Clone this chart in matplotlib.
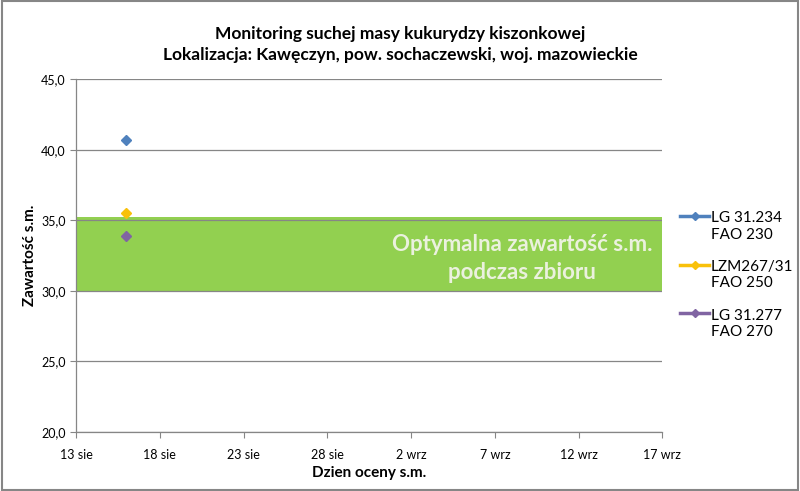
import matplotlib
matplotlib.use("Agg")
import matplotlib.pyplot as plt
import matplotlib.dates as mdates
from matplotlib.patches import Rectangle
from matplotlib.legend_handler import HandlerLine2D
from matplotlib.transforms import Affine2D
import datetime as dt

plt.rcParams['font.family'] = ['Lato', 'DejaVu Sans']

# Data
series_names = ["LG 31.234\nFAO 230", "LZM267/31\nFAO 250", "LG 31.277\nFAO 270"]
series_colors = ["#4F81BD", "#F9C10A", "#8064A2"]
dates = [dt.date(2013, 8, 16)]
values = [[40.7], [35.5], [33.9]]
optimal_range = (30.0, 35.2)
x_ticks = [dt.date(2013, 8, 13) + dt.timedelta(days=5 * i) for i in range(8)]
x_tick_labels = ["13 sie", "18 sie", "23 sie", "28 sie", "2 wrz", "7 wrz", "12 wrz", "17 wrz"]
y_ticks = [20, 25, 30, 35, 40, 45]


class TopAlignedHandler(HandlerLine2D):
    """Place the legend line next to the first line of a two-line label."""
    def create_artists(self, legend, orig_handle, xdescent, ydescent, width,
                       height, fontsize, trans):
        arts = super().create_artists(legend, orig_handle, xdescent, ydescent,
                                      width, height, fontsize, trans)
        shift = Affine2D().translate(0, 0.68 * fontsize)
        for a in arts:
            a.set_transform(shift + trans)
        return arts


fig = plt.figure(figsize=(8, 4.91), dpi=100)
ax = fig.add_axes([0.095, 0.120, 0.733, 0.719])

ax.set_xlim(mdates.date2num(x_ticks[0]), mdates.date2num(x_ticks[-1]))
ax.set_ylim(20, 45)

# green band
ax.axhspan(optimal_range[0], optimal_range[1], color="#92D050", zorder=1, lw=0)
ax.text(0.761, 0.492, "Optymalna zawartość s.m.\npodczas zbioru", transform=ax.transAxes,
        ha="center", va="center", fontsize=16, fontweight="bold", color="#EBF1DE",
        linespacing=1.4, zorder=3)

lines = []
for name, col, vals in zip(series_names, series_colors, values):
    ln, = ax.plot(dates, vals, color=col, marker="D", markersize=5, lw=2.5, label=name, zorder=4)
    lines.append(ln)

ax.set_xticks([mdates.date2num(d) for d in x_ticks])
ax.set_xticklabels(x_tick_labels)
ax.set_yticks(y_ticks)
ax.set_yticklabels([f"{v:.1f}".replace(".", ",") for v in y_ticks])
ax.grid(axis="y", color="#868686", lw=0.9, zorder=2)
for s in ["top", "right"]:
    ax.spines[s].set_visible(False)
for s in ["left", "bottom"]:
    ax.spines[s].set_color("#868686")
    ax.spines[s].set_linewidth(0.9)
    ax.spines[s].set_zorder(2)
ax.tick_params(axis="both", colors="#868686", labelcolor="#000000", labelsize=9, length=4)
ax.tick_params(axis="x", pad=8)

ax.set_xlabel("Dzien oceny s.m.", fontsize=11, fontweight="bold", labelpad=4)
ax.set_ylabel("Zawartość s.m.", fontsize=11, fontweight="bold", labelpad=3)

fig.suptitle("Monitoring suchej masy kukurydzy kiszonkowej\nLokalizacja: Kawęczyn, pow. sochaczewski, woj. mazowieckie",
             fontsize=12.5, fontweight="bold", y=0.947, x=0.50, linespacing=1.35)

leg = ax.legend(handles=lines, loc="upper left", bbox_to_anchor=(1.03, 0.625), frameon=False,
                fontsize=11, handlelength=1.9, handletextpad=0.1, labelspacing=1.2,
                borderaxespad=0, borderpad=0,
                handler_map={l: TopAlignedHandler() for l in lines})
for h in leg.legend_handles:
    h.set_markersize(4)

fig.patches.append(Rectangle((0.002, 0.002), 0.996, 0.996, transform=fig.transFigure,
                             fill=False, edgecolor="#868686", lw=1.5))

fig.savefig("out.png", dpi=100)
